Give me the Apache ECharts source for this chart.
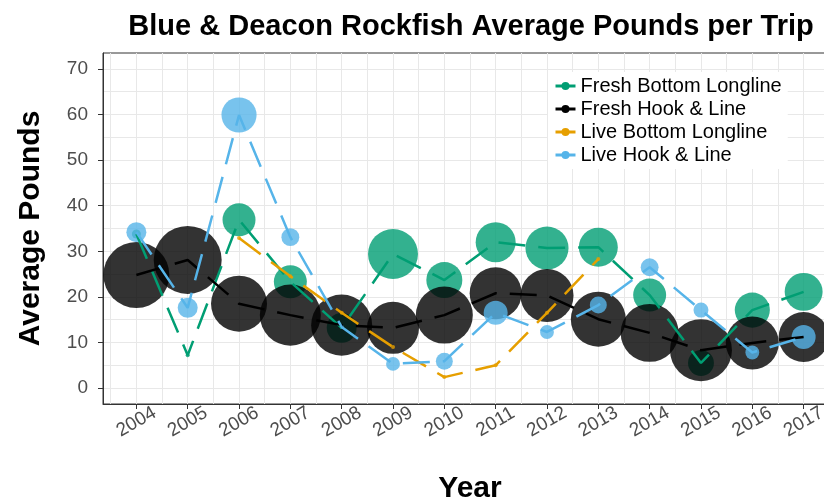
<!DOCTYPE html>
<html>
<head>
<meta charset="utf-8">
<script src="https://cdn.jsdelivr.net/npm/echarts@6/dist/echarts.min.js"></script>
<style>
  html, body { margin: 0; padding: 0; background: #fff; }
  #chart { width: 824px; height: 503px; }
</style>
</head>
<body>
<div id="chart"></div>
<script>
	// values
	const years = [2004, 2005, 2006, 2007, 2008, 2009, 2010, 2011, 2012, 2013, 2014, 2015, 2016, 2017];
	const yTicks = [0, 10, 20, 30, 40, 50, 60, 70];
	const seriesNames = ['Fresh Bottom Longline', 'Fresh Hook & Line', 'Live Bottom Longline', 'Live Hook & Line'];

	const freshBottom = [33.8, 7.2, 36.9, 23.3, 13.2, 29.4, 23.7, 32.0, 30.7, 30.9, 20.4, 5.5, 17.1, 21.1];
	const freshHook = [24.8, 28.1, 18.5, 16.0, 13.8, 13.2, 16.0, 20.8, 20.3, 15.1, 12.1, 8.3, 9.9, 11.2];
	const liveBottom = [null, null, 32.9, 24.5, 16.5, 9.0, 2.4, 5.0, 16.5, 28.3, null, null, null, null];
	const liveHook = [34.2, 17.6, 59.9, 33.1, 13.4, 5.3, 5.9, 16.5, 12.3, 18.2, 26.5, 17.1, 7.8, 11.2];

	// number of trips (bubble size variable)
	const freshBottomTrips = [5, 1, 68, 68, 56, 156, 81, 100, 116, 95, 68, 42, 77, 90];
	const freshHookTrips = [272, 289, 196, 233, 233, 169, 203, 169, 176, 189, 210, 240, 176, 156];
	const liveBottomTrips = [null, null, 1, 1, 1, 1, 1, 1, 1, 1, null, null, null, null];
	const liveHookTrips = [25, 25, 77, 20, 1, 12, 18, 36, 12, 18, 20, 14, 12, 36];

	const colors = ['#009E73', '#000000', '#E69F00', '#56B4E9'];
	const font = "'Liberation Sans', Arial, sans-serif";

	const halfYears = [];
	for (let y = 2003.5; y <= 2017.5; y += 0.5) halfYears.push(y);
	const halfTicks = [];
	for (let v = 0; v <= 70; v += 5) halfTicks.push(v);

	function pairs(vals, trips) {
		let out = [];
		years.forEach((yr, i) => {
			if (vals[i] !== null) out.push(trips ? [yr, vals[i], trips[i]] : [yr, vals[i]]);
		});
		return out;
	}

	const allVals = [freshBottom, freshHook, liveBottom, liveHook];
	const allTrips = [freshBottomTrips, freshHookTrips, liveBottomTrips, liveHookTrips];

	let series = [];
	// lines first (legend icon), drawn on top through z
	seriesNames.forEach((name, i) => {
		series.push({
			name: name,
			type: 'line',
			z: 3,
			data: pairs(allVals[i]),
			symbol: 'circle',
			showSymbol: false,
			color: colors[i],
			lineStyle: { color: colors[i], width: 2.5, type: [27, 13] },
			itemStyle: { color: colors[i] },
			emphasis: { disabled: true },
			animation: false
		});
	});
	seriesNames.forEach((name, i) => {
		series.push({
			name: name,
			type: 'scatter',
			z: 2,
			data: pairs(allVals[i], allTrips[i]),
			symbolSize: d => Math.sqrt(d[2]) * 4,
			itemStyle: { color: colors[i], opacity: 0.8 },
			emphasis: { disabled: true },
			animation: false
		});
	});

	let chart = echarts.init(document.getElementById('chart'));
	const option = {
		backgroundColor: '#fff',
		animation: false,
		title: {
			text: 'Blue & Deacon Rockfish Average Pounds per Trip',
			left: 466,
			top: 7,
			textAlign: 'center',
			textStyle: { fontFamily: font, fontWeight: 'bold', fontSize: 29, color: '#000' }
		},
		legend: {
			data: seriesNames,
			orient: 'vertical',
			left: 548,
			top: 72,
			padding: [4, 6],
			itemGap: 3,
			itemWidth: 20,
			itemHeight: 10,
			backgroundColor: '#fff',
			lineStyle: { type: 'solid', width: 3 },
			textStyle: { fontFamily: font, fontSize: 20, color: '#000', lineHeight: 20 }
		},
		grid: {
			left: 103,
			top: 53,
			right: -13,
			bottom: 99,
			outerBoundsMode: 'none',
			containLabel: false,
			show: true,
			borderColor: '#333',
			borderWidth: 1
		},
		xAxis: [
			{
				type: 'value',
				min: 2003.35,
				max: 2017.65,
				position: 'bottom',
				name: 'Year',
				nameLocation: 'middle',
				nameGap: 70,
				nameTextStyle: { fontFamily: font, fontWeight: 'bold', fontSize: 30, color: '#000' },
				axisLine: { show: true, onZero: false, lineStyle: { color: '#333', width: 1 } },
				axisTick: { show: true, length: 5, customValues: years, lineStyle: { color: '#333' } },
				axisLabel: {
					customValues: years,
					formatter: v => String(v),
					rotate: 30,
					align: 'center',
					verticalAlign: 'middle',
					margin: 18,
					fontFamily: font,
					fontSize: 19,
					color: '#4d4d4d'
				},
				splitLine: { show: false }
			},
			{
				type: 'value',
				min: 2003.35,
				max: 2017.65,
				position: 'bottom',
				axisLine: { show: false, onZero: false },
				axisTick: { show: false, customValues: halfYears },
				axisLabel: { show: false },
				splitLine: { show: true, lineStyle: { color: '#e8e8e8', width: 1 } }
			}
		],
		yAxis: [
			{
				type: 'value',
				min: -3.5,
				max: 73.5,
				position: 'left',
				name: 'Average Pounds',
				nameLocation: 'middle',
				nameGap: 57,
				nameTextStyle: { fontFamily: font, fontWeight: 'bold', fontSize: 30, color: '#000' },
				axisLine: { show: true, onZero: false, lineStyle: { color: '#333', width: 1 } },
				axisTick: { show: true, length: 5, customValues: yTicks, lineStyle: { color: '#333' } },
				axisLabel: { customValues: yTicks, margin: 15, fontFamily: font, fontSize: 19, color: '#4d4d4d' },
				splitLine: { show: false }
			},
			{
				type: 'value',
				min: -3.5,
				max: 73.5,
				position: 'left',
				axisLine: { show: false, onZero: false },
				axisTick: { show: false, customValues: halfTicks },
				axisLabel: { show: false },
				splitLine: { show: true, lineStyle: { color: '#e8e8e8', width: 1 } }
			}
		],
		series: series
	};
	chart.setOption(option);
</script>
</body>
</html>
